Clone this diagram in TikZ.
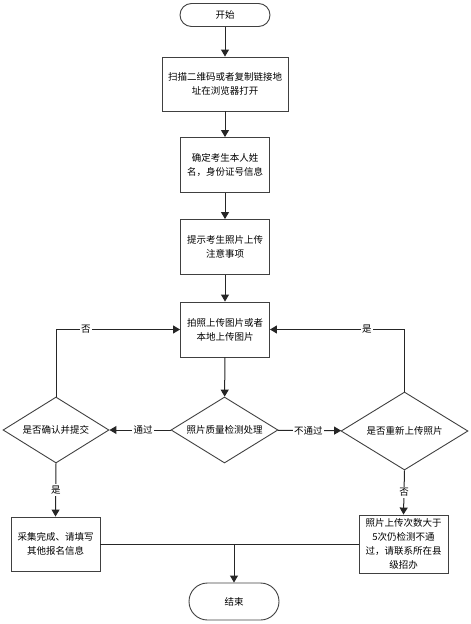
\documentclass[tikz,border=0pt]{standalone}
\usepackage{fontspec}
\newfontfamily\cjk{Noto Sans CJK SC}
\usetikzlibrary{shapes.geometric,arrows.meta}
\begin{document}
\begin{tikzpicture}[x=1pt,y=-1pt,
  every node/.style={font=\cjk\fontsize{9.5}{14}\selectfont, align=center, inner sep=0pt},
  proc/.style={draw=black!75, line width=0.9pt, rectangle},
  term/.style={draw=black!75, line width=0.9pt, rectangle},
  dec/.style={draw=black!75, line width=0.9pt, diamond, aspect=1.6},
  conn/.style={draw=black!85, line width=1pt},
  arr/.style={conn, -{Triangle[width=8pt,length=7pt]}},
  lbl/.style={fill=white, inner sep=1.5pt}
]
\useasboundingbox (0,0) rectangle (471,624);

\node[term, rounded corners=11.5pt, minimum width=90pt, minimum height=23pt] (start) at (225,15) {开始};
\node[proc, minimum width=126pt, minimum height=54pt] (b1) at (225,84) {扫描二维码或者复制链接地\\址在浏览器打开};
\node[proc, minimum width=89pt, minimum height=55pt] (b2) at (225,165) {确定考生本人姓\\名，身份证号信息};
\node[proc, minimum width=89pt, minimum height=55pt] (b3) at (225,247) {提示考生照片上传\\注意事项};
\node[proc, minimum width=89pt, minimum height=55pt] (b4) at (225,329.5) {拍照上传图片或者\\本地上传图片};
\node[dec, minimum width=107pt, minimum height=66pt] (dm) at (224.5,430) {照片质量检测处理};
\node[dec, minimum width=106pt, minimum height=66pt] (dl) at (56,430) {是否确认并提交};
\node[dec, minimum width=127pt, minimum height=78pt] (dr) at (404.5,431) {是否重新上传照片};
\node[proc, minimum width=89pt, minimum height=54pt] (lb) at (55.5,544) {采集完成、请填写\\其他报名信息};
\node[proc, minimum width=89pt, minimum height=58pt] (rb) at (403.5,544) {照片上传次数大于\\5次仍检测不通\\过，请联系所在县\\级招办};
\node[term, rounded corners=18.5pt, minimum width=90pt, minimum height=37pt] (end) at (234,601.5) {结束};
\coordinate (merge) at (234,544);

\draw[arr] (start) -- (b1);
\draw[arr] (b1) -- (b2);
\draw[arr] (b2) -- (b3);
\draw[arr] (b3) -- (b4);
\draw[arr] (b4) -- (dm);
\draw[arr] (dm) -- node[lbl, pos=0.45] {通过} (dl);
\draw[arr] (dm) -- node[lbl, pos=0.48] {不通过} (dr);
\draw[arr] (dl.north) |- node[lbl, pos=0.62] {否} (b4.west);
\draw[arr] (dr.north) |- node[lbl, pos=0.64] {是} (b4.east);
\draw[arr] (dl.south) -- node[lbl, pos=0.5] {是} (lb.north);
\draw[arr] (dr.south) -- node[lbl, pos=0.5] {否} (rb.north);
\draw[conn] (lb.east) -- (rb.west);
\draw[arr] (merge) -- (end.north);
\end{tikzpicture}
\end{document}
